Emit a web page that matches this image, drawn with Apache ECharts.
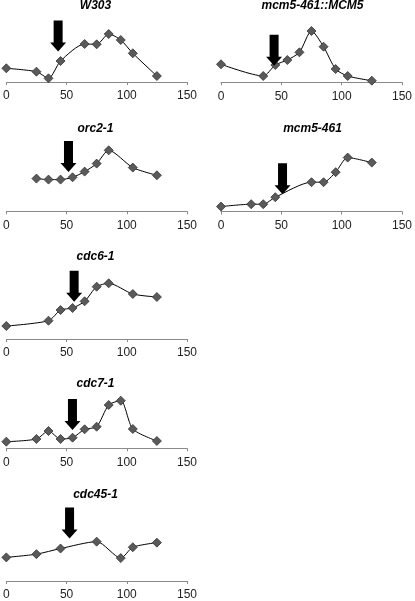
<!DOCTYPE html>
<html><head><meta charset="utf-8">
<script src="https://cdn.jsdelivr.net/npm/echarts@6/dist/echarts.min.js"></script>
<style>html,body{margin:0;padding:0;background:#fff}#c{width:415px;height:601px}</style>
</head><body><div id="c"></div>
<script>
// Panel names
const panelTitles = ['W303', 'mcm5-461::MCM5', 'orc2-1', 'mcm5-461', 'cdc6-1', 'cdc7-1', 'cdc45-1'];
// time points (min) for each panel
const timesW303 = [0, 25, 35, 45, 65, 75, 85, 95, 105, 125];
const valsW303  = [13.7, 10.3, 3.7, 21, 38, 37.7, 48, 42, 28.7, 6];
const timesMCM5 = [0, 35, 45, 55, 65, 75, 85, 95, 105, 125];
const valsMCM5  = [18, 6.3, 17.3, 22.3, 30, 51.3, 35.6, 13.3, 6.3, 1.6];
const timesOrc2 = [25, 35, 45, 55, 65, 75, 85, 105, 125];
const valsOrc2  = [32.7, 31.7, 31.7, 34, 39.7, 47.7, 61, 43.7, 36];
const timesMcm5461 = [0, 25, 35, 45, 75, 85, 95, 105, 125];
const valsMcm5461  = [5, 7.4, 7.4, 14.4, 29.4, 29.4, 39.4, 54, 49];
const timesCdc6 = [0, 35, 45, 55, 65, 75, 85, 105, 125];
const valsCdc6  = [13, 18.3, 29, 31, 37.7, 52.3, 55.7, 45, 42];
const timesCdc7 = [0, 25, 35, 45, 55, 65, 75, 85, 95, 105, 125];
const valsCdc7  = [6.6, 9.3, 17.3, 9.3, 10.6, 19, 21.6, 43.3, 47.6, 19.3, 7.3];
const timesCdc45 = [0, 25, 45, 75, 95, 105, 125];
const valsCdc45  = [24, 27.3, 33, 40, 23.3, 34.3, 39];
// arrow (x position in minutes, tip height)
const arrowX   = [43, 44, 51.6, 51, 56.3, 54.9, 52.5];
const arrowTip = [30.5, 16.6, 39.3, 17.4, 37.3, 18.3, 43.3];
// x-axis ticks
const xTicks = [0, 50, 100, 150];

const panelTimes = [timesW303, timesMCM5, timesOrc2, timesMcm5461, timesCdc6, timesCdc7, timesCdc45];
const panelVals  = [valsW303, valsMCM5, valsOrc2, valsMcm5461, valsCdc6, valsCdc7, valsCdc45];

// layout: left px, axis baseline y px, title y px
const layout = [
  {left: 4,   axisY: 82,    titleY: 6},
  {left: 221, axisY: 82.3,  titleY: 6},
  {left: 4,   axisY: 211.3, titleY: 128.5},
  {left: 221, axisY: 211.6, titleY: 128.5},
  {left: 4,   axisY: 339,   titleY: 257},
  {left: 4,   axisY: 448.3, titleY: 383.5},
  {left: 4,   axisY: 582.3, titleY: 495}
];
const W = 183, H = 80;
const arrowPath = 'path://M3.5,0 L12.5,0 L12.5,22 L16,22 L8,31 L0,22 L3.5,22 Z';

const grids = [], xAxes = [], yAxes = [], series = [], graphics = [];
layout.forEach((L, i) => {
  grids.push({left: L.left, top: L.axisY - H, width: W, height: H});
  xAxes.push({
    type: 'value', gridIndex: i, min: xTicks[0], max: xTicks[xTicks.length - 1], interval: 50,
    axisLine: {lineStyle: {color: '#8a8a8a', width: 1}},
    axisTick: {show: true, length: 3, lineStyle: {color: '#8a8a8a'}},
    splitLine: {show: false},
    axisLabel: {show: true, margin: 8, color: '#222', fontSize: 12, fontFamily: 'Liberation Sans, Arial, sans-serif'}
  });
  yAxes.push({type: 'value', gridIndex: i, min: 0, max: H, show: false, splitLine: {show: false}});
  series.push({
    type: 'line', xAxisIndex: i, yAxisIndex: i,
    data: panelTimes[i].map((t, k) => [t, panelVals[i][k]]),
    smooth: 0.25, clip: false,
    symbol: 'diamond', symbolSize: [9, 9],
    itemStyle: {color: '#5a5a5a', borderColor: '#333', borderWidth: 0.8},
    lineStyle: {color: '#000', width: 1},
    markPoint: {
      symbol: arrowPath, symbolSize: [16, 31], symbolOffset: [0, '-50%'], symbolKeepAspect: false,
      itemStyle: {color: '#000'}, label: {show: false}, silent: true,
      data: [{coord: [arrowX[i], arrowTip[i]]}]
    },
    animation: false
  });
  graphics.push({
    type: 'text', x: L.left + W / 2, y: L.titleY,
    style: {text: panelTitles[i], textAlign: 'center', textVerticalAlign: 'middle',
      font: 'italic bold 12px "Liberation Sans", Arial, sans-serif', fill: '#000'}
  });
});

const chart = echarts.init(document.getElementById('c'), null, {renderer: 'canvas'});
chart.setOption({
  animation: false, backgroundColor: '#fff',
  grid: grids, xAxis: xAxes, yAxis: yAxes, series: series, graphic: graphics
});
</script></body></html>
